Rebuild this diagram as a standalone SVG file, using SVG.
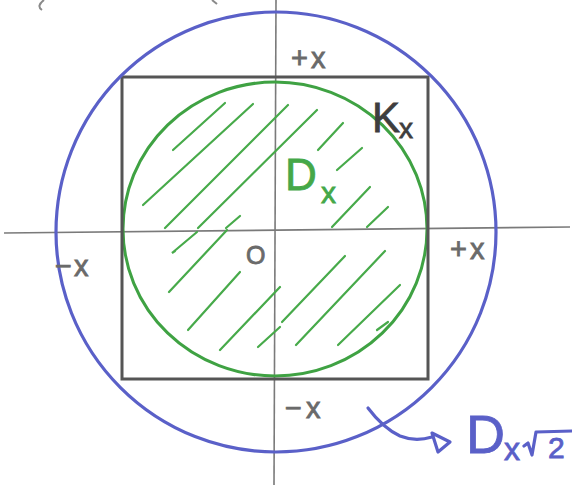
<svg xmlns="http://www.w3.org/2000/svg" width="572" height="485" viewBox="0 0 572 485">
<style>
.ax{stroke:#7a7a7a;stroke-width:1.6;fill:none}
.sq{stroke:#555;stroke-width:3;fill:none}
.gr{stroke:#3fa243;stroke-width:3;fill:none;stroke-linecap:round}
.ht{stroke:#47aa4a;stroke-width:2.2;fill:none;stroke-linecap:round}
.bl{stroke:#5a60c8;stroke-width:3.2;fill:none;stroke-linecap:round;stroke-linejoin:round}
.lb{font-family:"Liberation Sans","DejaVu Sans",sans-serif;fill:#6a6a6a;stroke:#6a6a6a;stroke-width:0.8}
.gt{fill:#45a848;stroke:#45a848}
.kt{fill:#3e3e3e;stroke:#3e3e3e}
.bt{fill:#5a60c8;stroke:#5a60c8}
</style>
<rect width="572" height="485" fill="#ffffff"/>
<g id="scribble" class="ax">
<path d="M44 0 Q36 6 42 10" stroke="#8a8a8a" stroke-width="2"/>
<path d="M212 0 L217 4" stroke="#8a8a8a" stroke-width="2"/>
</g>
<g id="axes">
<line class="ax" x1="4" y1="233" x2="570" y2="227"/>
<line class="ax" x1="276" y1="0" x2="274" y2="485"/>
</g>
<g id="Dx">
<g id="hatch">
<line class="ht" x1="173" y1="150" x2="225" y2="103"/>
<line class="ht" x1="143" y1="205" x2="253" y2="104"/>
<line class="ht" x1="165" y1="228" x2="288" y2="105"/>
<line class="ht" x1="198" y1="228" x2="317" y2="110"/>
<line class="ht" x1="226" y1="228" x2="240" y2="216"/>
<line class="ht" x1="318" y1="150" x2="343" y2="123"/>
<line class="ht" x1="337" y1="170" x2="362" y2="148"/>
<line class="ht" x1="332" y1="227" x2="370" y2="187"/>
<line class="ht" x1="367" y1="227" x2="388" y2="207"/>
<path class="ht" d="M175 251 L172 253 L197 232"/>
<line class="ht" x1="169" y1="292" x2="227" y2="230"/>
<line class="ht" x1="188" y1="330" x2="240" y2="272"/>
<line class="ht" x1="220" y1="350" x2="280" y2="287"/>
<line class="ht" x1="258" y1="347" x2="280" y2="327"/>
<line class="ht" x1="282" y1="322" x2="345" y2="256"/>
<line class="ht" x1="296" y1="345" x2="385" y2="251"/>
<line class="ht" x1="338" y1="345" x2="400" y2="285"/>
<line class="ht" x1="377" y1="330" x2="388" y2="322"/>
</g>
<ellipse class="gr" cx="275" cy="229" rx="152" ry="147"/>
<text class="lb gt" x="285" y="190" font-size="44">D</text>
<text class="lb gt" x="321" y="203" font-size="30">x</text>
</g>
<g id="Kx">
<rect class="sq" x="122" y="77" width="306" height="302"/>
<text class="lb kt" x="372" y="132" font-size="42">K</text>
<text class="lb kt" x="399" y="138" font-size="28">x</text>
</g>
<g id="Dx2">
<circle class="bl" cx="276" cy="232" r="220"/>
<text class="lb bt" x="466" y="453" font-size="54">D</text>
<text class="lb bt" x="504" y="460" font-size="32">x</text>
<path class="bl" d="M524 446 L528 443 L532 455 L536 432 L572 431" stroke-width="2.6"/>
<text class="lb bt" x="548" y="458" font-size="30">2</text>
</g>
<g id="labels">
<text class="lb" x="291" y="68" font-size="29" letter-spacing="3">+x</text>
<text class="lb" x="55" y="276" font-size="29" letter-spacing="2">−x</text>
<text class="lb" x="450" y="259" font-size="29" letter-spacing="3">+x</text>
<text class="lb" x="285" y="418" font-size="29" letter-spacing="4">−x</text>
<text class="lb" x="246" y="264" font-size="25">O</text>
</g>
<g id="connectors">
<path class="bl" d="M368 408 Q383 428 400 436 Q415 442 432 437" stroke-width="2.6"/>
<path class="bl" d="M432 433 L450 442 L438 452 Z" stroke-width="2.6"/>
</g>
</svg>
